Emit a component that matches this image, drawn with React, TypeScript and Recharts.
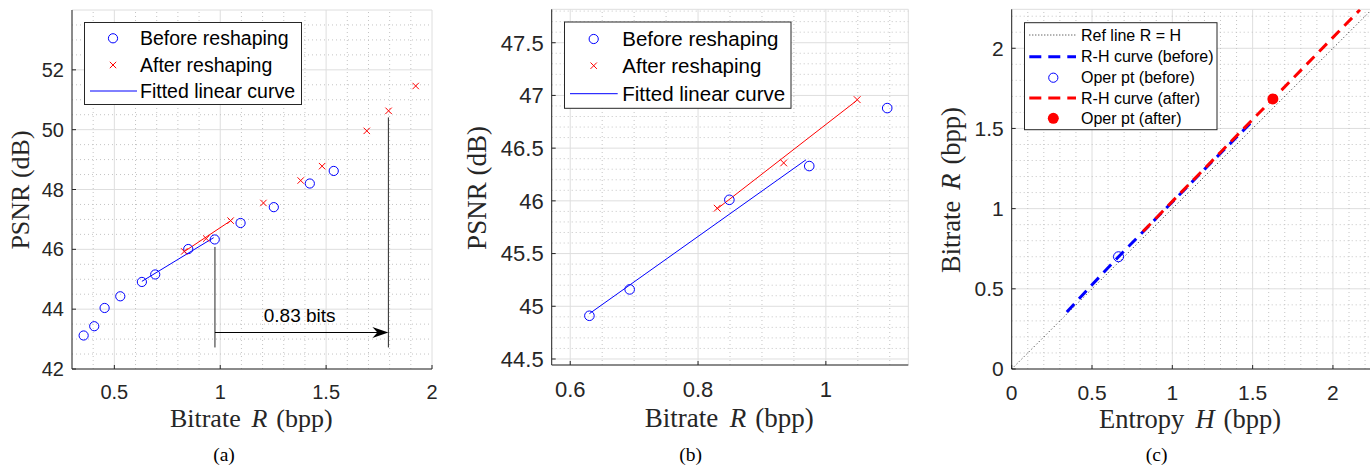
import React from "react";
import {
  ScatterChart,
  Scatter,
  XAxis,
  YAxis,
  CartesianGrid,
  ReferenceLine,
  ReferenceDot,
} from "recharts";

const SANS = '"Liberation Sans", Arial, Helvetica, sans-serif';
const SERIF = '"Liberation Serif", "Times New Roman", serif';
const AXIS = "#262626";
const BLUE = "#0000ff";
const RED = "#ff0000";

// PSNR vs bitrate, before / after reshaping (panels a and b)
const beforeRate = [0.355, 0.405, 0.454, 0.528, 0.63, 0.693, 0.849, 0.974, 1.096, 1.253, 1.423, 1.536];
const beforePsnr = [43.12, 43.43, 44.04, 44.43, 44.91, 45.16, 46.01, 46.33, 46.88, 47.41, 48.2, 48.62];
const afterRate = [0.83, 0.934, 1.049, 1.204, 1.38, 1.481, 1.692, 1.795, 1.923];
const afterPsnr = [45.93, 46.36, 46.96, 47.55, 48.3, 48.78, 49.96, 50.63, 51.46];

// fitted linear curves
const fitBeforeRate = [0.63, 0.969];
const fitBeforePsnr = [44.93, 46.39];
const fitAfterRate = [0.829, 1.048];
const fitAfterPsnr = [45.92, 46.95];

// "0.83 bits" annotation in (a)
const gapFrom = 0.975;
const gapTo = 1.794;
const gapArrowY = 43.22;
const gapFromTop = 46.08;
const gapToTop = 50.41;
const gapBottom = 42.72;
const gapLabel = "0.83 bits";
const gapLabelX = 1.375;
const gapLabelY = 43.8;

// R-H curves (panel c)
const refLineH = [0, 2.24];
const rhBeforeH = [0.343, 0.5, 0.665, 0.9, 1.2, 1.487];
const rhBeforeR = [0.355, 0.525, 0.7, 0.94, 1.245, 1.533];
const rhAfterH = [0.817, 1.0, 1.3, 1.626, 1.9, 2.168];
const rhAfterR = [0.857, 1.045, 1.352, 1.684, 1.965, 2.24];
const operBeforeH = [0.665];
const operBeforeR = [0.7];
const operAfterH = [1.626];
const operAfterR = [1.684];

// axes
const xTicksA = [0.5, 1, 1.5, 2];
const yTicksA = [42, 44, 46, 48, 50, 52];
const xTicksB = [0.6, 0.8, 1];
const yTicksB = [44.5, 45, 45.5, 46, 46.5, 47, 47.5];
const ticksC = [0, 0.5, 1, 1.5, 2];

const pts = (xs: number[], ys: number[]) => xs.map((x, i) => ({ x, y: ys[i] }));

// minor grid positions between major ticks
const minor = (from: number, to: number, step: number, majors: number[]) => {
  const out: number[] = [];
  for (let v = from; v <= to + 1e-9; v += step) {
    const r = Math.round(v * 1000) / 1000;
    if (!majors.some((m) => Math.abs(m - r) < 1e-6)) out.push(r);
  }
  return out;
};

const Nothing = () => <g />;

const Ring = (r: number) => (p: any) =>
  <circle cx={p.cx} cy={p.cy} r={r} fill="none" stroke={BLUE} strokeWidth={1} />;

const Cross = (s: number) => (p: any) => (
  <g stroke={RED} strokeWidth={1}>
    <line x1={p.cx - s} y1={p.cy - s} x2={p.cx + s} y2={p.cy + s} />
    <line x1={p.cx + s} y1={p.cy - s} x2={p.cx - s} y2={p.cy + s} />
  </g>
);

const Disc = (p: any) => <circle cx={p.cx} cy={p.cy} r={5.5} fill={RED} />;

const Arrow = (p: any) => {
  const { x1, y1, x2, y2 } = p;
  return (
    <g>
      <line x1={x1} y1={y1} x2={x2 - 10} y2={y2} stroke="#000" strokeWidth={1} />
      <polygon
        points={`${x2},${y2} ${x2 - 16},${y2 - 5.5} ${x2 - 11},${y2} ${x2 - 16},${y2 + 5.5}`}
        fill="#000"
      />
    </g>
  );
};

interface FrameProps {
  left: number;
  margin: { top: number; right: number; bottom: number; left: number };
  yAxisWidth: number;
  xDomain: number[];
  yDomain: number[];
  xTicks: number[];
  yTicks: number[];
  xMinor: number[];
  yMinor: number[];
  fontSize: number;
  children?: React.ReactNode;
}

function Frame({ left, margin, yAxisWidth, xDomain, yDomain, xTicks, yTicks, xMinor, yMinor, fontSize, children }: FrameProps) {
  const tick = { fontSize, fill: AXIS, fontFamily: SANS };
  return (
    <div style={{ position: "absolute", left, top: 0 }}>
      <ScatterChart width={460} height={465} margin={margin}>
        <CartesianGrid stroke="#dedede" strokeWidth={1} />
        {xMinor.map((v) => (
          <ReferenceLine key={"mx" + v} x={v} stroke="#c4c4c4" strokeWidth={1} strokeDasharray="1 3" />
        ))}
        {yMinor.map((v) => (
          <ReferenceLine key={"my" + v} y={v} stroke="#c4c4c4" strokeWidth={1} strokeDasharray="1 3" />
        ))}
        <XAxis
          type="number"
          dataKey="x"
          domain={xDomain}
          ticks={xTicks}
          allowDataOverflow
          interval={0}
          height={40}
          tickSize={-4}
          tickMargin={20}
          tick={tick}
          stroke={AXIS}
        />
        <XAxis
          xAxisId="top"
          orientation="top"
          type="number"
          dataKey="x"
          domain={xDomain}
          ticks={xTicks}
          allowDataOverflow
          interval={0}
          height={0}
          tickSize={-4}
          tick={false}
          stroke={AXIS}
        />
        <YAxis
          type="number"
          dataKey="y"
          domain={yDomain}
          ticks={yTicks}
          allowDataOverflow
          interval={0}
          width={yAxisWidth}
          tickSize={-4}
          tickMargin={12}
          tick={tick}
          stroke={AXIS}
        />
        <YAxis
          yAxisId="right"
          orientation="right"
          type="number"
          dataKey="y"
          domain={yDomain}
          ticks={yTicks}
          allowDataOverflow
          interval={0}
          width={0}
          tickSize={-4}
          tick={false}
          stroke={AXIS}
        />
        {children}
      </ScatterChart>
    </div>
  );
}

type Row = { label: React.ReactNode; kind: "ring" | "cross" | "line" | "dot" | "dash" | "dots"; color: string };

function LegendBox({ x, y, w, h, rows, rowY, fs, symX, lx1, lx2, tx }: {
  x: number; y: number; w: number; h: number; rows: Row[]; rowY: number[];
  fs: number; symX: number; lx1: number; lx2: number; tx: number;
}) {
  return (
    <g>
      <rect x={x} y={y} width={w} height={h} fill="#fff" stroke={AXIS} strokeWidth={1} />
      {rows.map((r, i) => {
        const cy = rowY[i];
        let sym: React.ReactNode = null;
        if (r.kind === "ring") sym = <circle cx={symX} cy={cy} r={4.6} fill="none" stroke={r.color} strokeWidth={1} />;
        if (r.kind === "dot") sym = <circle cx={symX} cy={cy} r={5.5} fill={r.color} />;
        if (r.kind === "cross")
          sym = (
            <g stroke={r.color} strokeWidth={1}>
              <line x1={symX - 3.2} y1={cy - 3.2} x2={symX + 3.2} y2={cy + 3.2} />
              <line x1={symX + 3.2} y1={cy - 3.2} x2={symX - 3.2} y2={cy + 3.2} />
            </g>
          );
        if (r.kind === "line") sym = <line x1={lx1} y1={cy} x2={lx2} y2={cy} stroke={r.color} strokeWidth={1} />;
        if (r.kind === "dash")
          sym = <line x1={lx1} y1={cy} x2={lx2} y2={cy} stroke={r.color} strokeWidth={3} strokeDasharray="12 7" />;
        if (r.kind === "dots")
          sym = <line x1={lx1} y1={cy} x2={lx2} y2={cy} stroke={r.color} strokeWidth={1} strokeDasharray="1 2" />;
        return (
          <g key={i}>
            {sym}
            <text x={tx} y={cy + fs * 0.36} fontSize={fs} fontFamily={SANS} fill="#000">
              {r.label}
            </text>
          </g>
        );
      })}
    </g>
  );
}

function XLabel({ cx, y, fs, word, sym }: { cx: number; y: number; fs: number; word: string; sym: string }) {
  return (
    <text x={cx} y={y} textAnchor="middle" fontSize={fs} fontFamily={SERIF} fill={AXIS}>
      <tspan>{word}</tspan>
      <tspan dx={fs * 0.42} fontStyle="italic">{sym}</tspan>
      <tspan dx={fs * 0.34}>(bpp)</tspan>
    </text>
  );
}

export default function App() {
  const before = pts(beforeRate, beforePsnr);
  const after = pts(afterRate, afterPsnr);
  const beforeB = before.filter((d) => d.x > 0.6 && d.x < 1.12);
  const afterB = after.filter((d) => d.x > 0.6 && d.x < 1.12);

  const rowsAB: Row[] = [
    { label: "Before reshaping", kind: "ring", color: BLUE },
    { label: "After reshaping", kind: "cross", color: RED },
    { label: "Fitted linear curve", kind: "line", color: BLUE },
  ];
  const rowsC: Row[] = [
    { label: "Ref line R = H", kind: "dots", color: AXIS },
    { label: "R-H curve (before)", kind: "dash", color: BLUE },
    { label: "Oper pt (before)", kind: "ring", color: BLUE },
    { label: "R-H curve (after)", kind: "dash", color: RED },
    { label: "Oper pt (after)", kind: "dot", color: RED },
  ];

  return (
    <div style={{ position: "absolute", left: 0, top: 0, width: 1370, height: 465, overflow: "hidden", background: "#fff" }}>
      {/* (a) */}
      <Frame
        left={0}
        margin={{ top: 10, right: 28, bottom: 56, left: 12 }}
        yAxisWidth={60}
        xDomain={[0.3, 2]}
        yDomain={[42, 54]}
        xTicks={xTicksA}
        yTicks={yTicksA}
        xMinor={minor(0.4, 1.9, 0.1, xTicksA)}
        yMinor={minor(42.5, 53.5, 0.5, yTicksA)}
        fontSize={20}
      >
        <ReferenceLine segment={[{ x: gapFrom, y: gapFromTop }, { x: gapFrom, y: gapBottom }]} stroke={AXIS} strokeWidth={1} />
        <ReferenceLine segment={[{ x: gapTo, y: gapToTop }, { x: gapTo, y: gapBottom }]} stroke={AXIS} strokeWidth={1} />
        <ReferenceLine segment={[{ x: gapFrom, y: gapArrowY }, { x: gapTo, y: gapArrowY }]} shape={Arrow} />
        <ReferenceDot
          x={gapLabelX}
          y={gapLabelY}
          r={0}
          fill="none"
          stroke="none"
          label={{ value: gapLabel, position: "center", fontSize: 19, fill: "#000", fontFamily: SANS }}
        />
        <Scatter data={pts(fitBeforeRate, fitBeforePsnr)} shape={Nothing} line={{ stroke: BLUE, strokeWidth: 1 }} isAnimationActive={false} />
        <Scatter data={pts(fitAfterRate, fitAfterPsnr)} shape={Nothing} line={{ stroke: RED, strokeWidth: 1 }} isAnimationActive={false} />
        <Scatter data={before} shape={Ring(4.6)} isAnimationActive={false} />
        <Scatter data={after} shape={Cross(3.2)} isAnimationActive={false} />
      </Frame>

      {/* (b) */}
      <Frame
        left={460}
        margin={{ top: 9.3, right: 11.7, bottom: 60, left: 11.7 }}
        yAxisWidth={80}
        xDomain={[0.571, 1.129]}
        yDomain={[44.443, 47.817]}
        xTicks={xTicksB}
        yTicks={yTicksB}
        xMinor={minor(0.6, 1.1, 0.05, xTicksB)}
        yMinor={minor(44.5, 47.8, 0.1, yTicksB)}
        fontSize={22}
      >
        <Scatter data={pts(fitBeforeRate, fitBeforePsnr)} shape={Nothing} line={{ stroke: BLUE, strokeWidth: 1 }} isAnimationActive={false} />
        <Scatter data={pts(fitAfterRate, fitAfterPsnr)} shape={Nothing} line={{ stroke: RED, strokeWidth: 1 }} isAnimationActive={false} />
        <Scatter data={beforeB} shape={Ring(4.8)} isAnimationActive={false} />
        <Scatter data={afterB} shape={Cross(3.4)} isAnimationActive={false} />
      </Frame>

      {/* (c) */}
      <Frame
        left={920}
        margin={{ top: 9.3, right: 9.3, bottom: 56, left: 11.7 }}
        yAxisWidth={80}
        xDomain={[0, 2.235]}
        yDomain={[0, 2.243]}
        xTicks={ticksC}
        yTicks={ticksC}
        xMinor={minor(0.1, 2.2, 0.1, ticksC)}
        yMinor={minor(0.1, 2.2, 0.1, ticksC)}
        fontSize={21}
      >
        <Scatter data={pts(refLineH, refLineH)} shape={Nothing} line={{ stroke: AXIS, strokeWidth: 1, strokeDasharray: "1 2.5" }} isAnimationActive={false} />
        <Scatter data={pts(rhBeforeH, rhBeforeR)} shape={Nothing} line={{ stroke: BLUE, strokeWidth: 3, strokeDasharray: "11 7" }} isAnimationActive={false} />
        <Scatter data={pts(operBeforeH, operBeforeR)} shape={Ring(5)} isAnimationActive={false} />
        <Scatter data={pts(rhAfterH, rhAfterR)} shape={Nothing} line={{ stroke: RED, strokeWidth: 3, strokeDasharray: "11 7" }} isAnimationActive={false} />
        <Scatter data={pts(operAfterH, operAfterR)} shape={Disc} isAnimationActive={false} />
      </Frame>

      <svg width={1370} height={465} style={{ position: "absolute", left: 0, top: 0, pointerEvents: "none" }}>
        <LegendBox x={84.5} y={22.5} w={217} h={82} rows={rowsAB} rowY={[38.3, 65, 91]} fs={19.5} symX={113} lx1={90} lx2={137} tx={140} />
        <LegendBox x={564.5} y={22} w={226.5} h={86.3} rows={rowsAB} rowY={[39, 65.7, 93.7]} fs={20.5} symX={593.7} lx1={570} lx2={617.7} tx={622.3} />
        <LegendBox x={1024.5} y={22.7} w={192.5} h={107} rows={rowsC} rowY={[35, 56.7, 77.7, 98, 118.3]} fs={16} symX={1053.3} lx1={1029.3} lx2={1076} tx={1081} />

        <XLabel cx={251.3} y={427} fs={26} word="Bitrate" sym="R" />
        <XLabel cx={729.3} y={427} fs={27} word="Bitrate" sym="R" />
        <XLabel cx={1190} y={428} fs={26.5} word="Entropy" sym="H" />

        <text transform="translate(29.3,190) rotate(-90)" textAnchor="middle" fontSize={26} fontFamily={SERIF} fill={AXIS}>
          PSNR (dB)
        </text>
        <text transform="translate(486,188) rotate(-90)" textAnchor="middle" fontSize={27} fontFamily={SERIF} fill={AXIS}>
          PSNR (dB)
        </text>
        <g transform="translate(960,190) rotate(-90)">
          <XLabel cx={0} y={0} fs={26.5} word="Bitrate" sym="R" />
        </g>

        <text x={224} y={461} textAnchor="middle" fontSize={19.5} fontFamily={SERIF} fill="#000">(a)</text>
        <text x={690.7} y={461} textAnchor="middle" fontSize={19.5} fontFamily={SERIF} fill="#000">(b)</text>
        <text x={1156.7} y={461} textAnchor="middle" fontSize={19.5} fontFamily={SERIF} fill="#000">(c)</text>
      </svg>
    </div>
  );
}
